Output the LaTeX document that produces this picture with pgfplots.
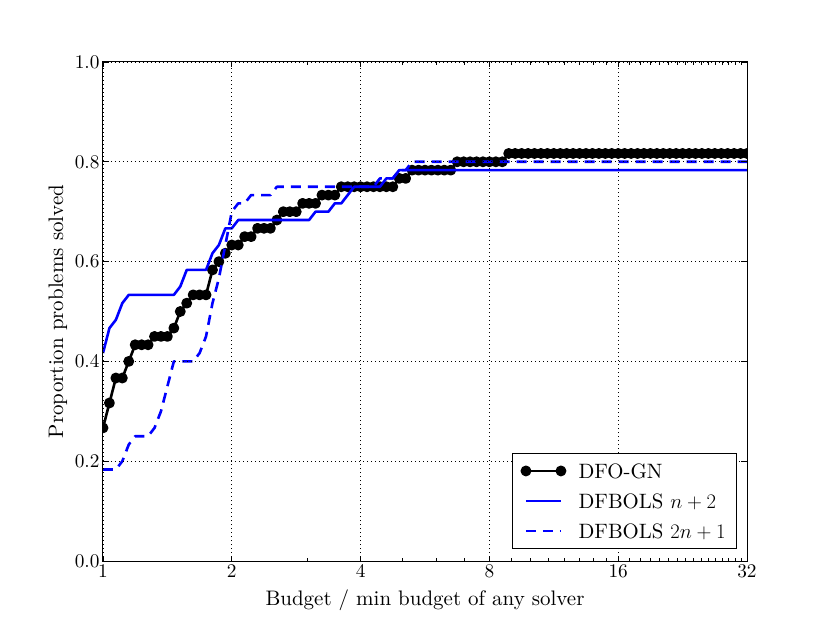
\documentclass[border=0pt]{standalone}
\usepackage{fontspec}
\setmainfont{lmroman10-regular.otf}
\usepackage{pgfplots}
\usepackage{pgfplotstable}
\pgfplotsset{compat=1.18}
\newcommand\fs{\fontsize{21bp}{25bp}\selectfont}
\newcommand\fst{\fontsize{19.3bp}{23bp}\selectfont}
\newcommand\fsl{\fontsize{20.8bp}{25bp}\selectfont}

\pgfplotstableread{
x gn n2 tn1
0.00 0.2667 0.4167 0.1833
0.05 0.3167 0.4667 0.1833
0.10 0.3667 0.4833 0.1833
0.15 0.3667 0.5167 0.2000
0.20 0.4000 0.5333 0.2333
0.25 0.4333 0.5333 0.2500
0.30 0.4333 0.5333 0.2500
0.35 0.4333 0.5333 0.2500
0.40 0.4500 0.5333 0.2667
0.45 0.4500 0.5333 0.3000
0.50 0.4500 0.5333 0.3500
0.55 0.4667 0.5333 0.4000
0.60 0.5000 0.5500 0.4000
0.65 0.5167 0.5833 0.4000
0.70 0.5333 0.5833 0.4000
0.75 0.5333 0.5833 0.4167
0.80 0.5333 0.5833 0.4500
0.85 0.5833 0.6167 0.5167
0.90 0.6000 0.6333 0.5667
0.95 0.6167 0.6667 0.6333
1.00 0.6333 0.6667 0.7000
1.05 0.6333 0.6833 0.7167
1.10 0.6500 0.6833 0.7167
1.15 0.6500 0.6833 0.7333
1.20 0.6667 0.6833 0.7333
1.25 0.6667 0.6833 0.7333
1.30 0.6667 0.6833 0.7333
1.35 0.6833 0.6833 0.7500
1.40 0.7000 0.6833 0.7500
1.45 0.7000 0.6833 0.7500
1.50 0.7000 0.6833 0.7500
1.55 0.7167 0.6833 0.7500
1.60 0.7167 0.6833 0.7500
1.65 0.7167 0.7000 0.7500
1.70 0.7333 0.7000 0.7500
1.75 0.7333 0.7000 0.7500
1.80 0.7333 0.7167 0.7500
1.85 0.7500 0.7167 0.7500
1.90 0.7500 0.7333 0.7500
1.95 0.7500 0.7500 0.7500
2.00 0.7500 0.7500 0.7500
2.05 0.7500 0.7500 0.7500
2.10 0.7500 0.7500 0.7500
2.15 0.7500 0.7500 0.7667
2.20 0.7500 0.7667 0.7667
2.25 0.7500 0.7667 0.7667
2.30 0.7667 0.7833 0.7833
2.35 0.7667 0.7833 0.7833
2.40 0.7833 0.7833 0.8000
2.45 0.7833 0.7833 0.8000
2.50 0.7833 0.7833 0.8000
2.55 0.7833 0.7833 0.8000
2.60 0.7833 0.7833 0.8000
2.65 0.7833 0.7833 0.8000
2.70 0.7833 0.7833 0.8000
2.75 0.8000 0.7833 0.8000
2.80 0.8000 0.7833 0.8000
2.85 0.8000 0.7833 0.8000
2.90 0.8000 0.7833 0.8000
2.95 0.8000 0.7833 0.8000
3.00 0.8000 0.7833 0.8000
3.05 0.8000 0.7833 0.8000
3.10 0.8000 0.7833 0.8000
3.15 0.8167 0.7833 0.8000
3.20 0.8167 0.7833 0.8000
3.25 0.8167 0.7833 0.8000
3.30 0.8167 0.7833 0.8000
3.35 0.8167 0.7833 0.8000
3.40 0.8167 0.7833 0.8000
3.45 0.8167 0.7833 0.8000
3.50 0.8167 0.7833 0.8000
3.55 0.8167 0.7833 0.8000
3.60 0.8167 0.7833 0.8000
3.65 0.8167 0.7833 0.8000
3.70 0.8167 0.7833 0.8000
3.75 0.8167 0.7833 0.8000
3.80 0.8167 0.7833 0.8000
3.85 0.8167 0.7833 0.8000
3.90 0.8167 0.7833 0.8000
3.95 0.8167 0.7833 0.8000
4.00 0.8167 0.7833 0.8000
4.05 0.8167 0.7833 0.8000
4.10 0.8167 0.7833 0.8000
4.15 0.8167 0.7833 0.8000
4.20 0.8167 0.7833 0.8000
4.25 0.8167 0.7833 0.8000
4.30 0.8167 0.7833 0.8000
4.35 0.8167 0.7833 0.8000
4.40 0.8167 0.7833 0.8000
4.45 0.8167 0.7833 0.8000
4.50 0.8167 0.7833 0.8000
4.55 0.8167 0.7833 0.8000
4.60 0.8167 0.7833 0.8000
4.65 0.8167 0.7833 0.8000
4.70 0.8167 0.7833 0.8000
4.75 0.8167 0.7833 0.8000
4.80 0.8167 0.7833 0.8000
4.85 0.8167 0.7833 0.8000
4.90 0.8167 0.7833 0.8000
4.95 0.8167 0.7833 0.8000
5.00 0.8167 0.7833 0.8000
}\data

\begin{document}
\begin{tikzpicture}
\path[use as bounding box] (-103bp,-62bp) rectangle (727bp,561bp);
\begin{axis}[
  at={(0,0)}, anchor=south west,
  scale only axis, width=644bp, height=499bp,
  xmin=0, xmax=5, ymin=0, ymax=1,
  xtick={0,1,2,3,4,5},
  xticklabels={1,2,4,8,16,32},
  minor xtick={1.58496,2.32193,2.58496,2.80735,3.16993,3.32193,3.45943,3.58496,3.70044,3.80735,3.90689,4.08746,4.16993,4.24793,4.32193,4.39232,4.45943,4.52356,4.58496,4.64386,4.70044,4.75489,4.80735,4.85798,4.90689,4.95420},
  ytick={0,0.2,0.4,0.6,0.8,1.0},
  /pgf/number format/assume math mode=true,
  y tick label style={/pgf/number format/.cd, fixed, fixed zerofill, precision=1},
  tick label style={font=\fst},
  tick align=inside,
  major tick length=5.5bp, minor tick length=2.8bp,
  tick style={black, line width=0.8bp},
  axis line style={line width=1bp},
  grid=major,
  major grid style={black, line width=0.6bp, dash pattern=on 1bp off 3bp},
  axis on top,
  clip marker paths=true,
  xlabel={Budget / min budget of any solver},
  ylabel={Proportion problems solved},
  xlabel style={font=\fs, at={(axis description cs:0.5,-0.0882)}, anchor=base},
  ylabel style={font=\fs, at={(axis description cs:-0.0699,0.5)}, anchor=center},
  legend image code/.code={\draw[#1] plot coordinates {(0bp,0bp) (35bp,0bp)};},
  legend style={at={(rel axis cs:1,0)}, anchor=south east, xshift=-10bp, yshift=11.7bp,
    draw=black, line width=1bp, fill=white, font=\fsl,
    inner xsep=9bp, inner ysep=7bp, row sep=8.2bp,
    cells={anchor=west, inner sep=0bp, text height=16.3bp, text depth=5bp},
    /tikz/every odd column/.append style={column sep=11.5bp}},
]
\addplot[black, line width=2.6bp, line join=round, mark=*, mark size=4.1bp, mark options={solid, fill=black}] table[x=x, y=gn]{\data};
\addlegendentry{DFO-GN}
\addplot[blue, line width=2.6bp, line join=round] table[x=x, y=n2]{\data};
\addlegendentry{DFBOLS $n+2$}
\addplot[blue, line width=2.6bp, line join=round, dash pattern=on 10bp off 7bp] table[x=x, y=tn1]{\data};
\addlegendentry{DFBOLS $2n+1$}
\end{axis}
\end{tikzpicture}
\end{document}
